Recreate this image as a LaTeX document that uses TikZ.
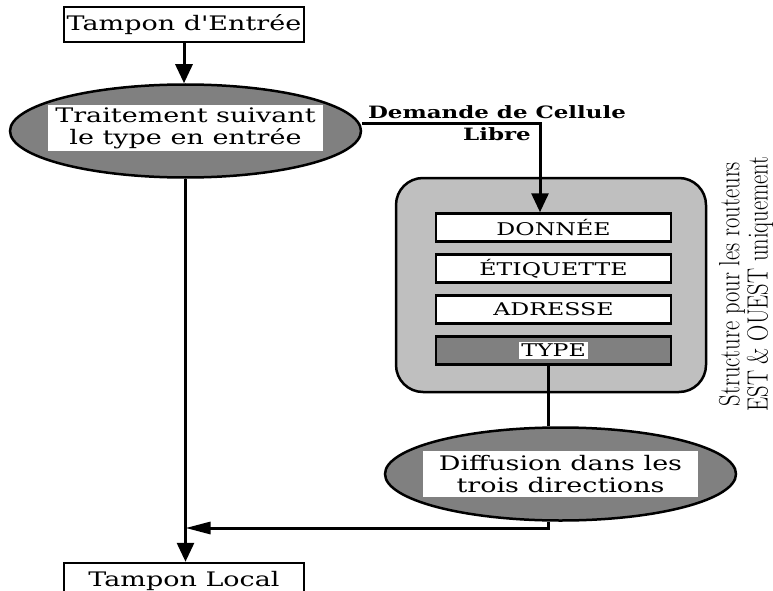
\documentclass[tikz,border=0pt]{standalone}
\usepackage{fontspec}
\usetikzlibrary{arrows.meta, positioning, shapes.geometric}
\newfontfamily\schfont{DejaVu Serif}[FakeStretch=1.35]

\begin{document}
\begin{tikzpicture}[x=1pt, y=-1pt,
        node distance=10.5pt and 0pt,
        buf/.style={rectangle, draw, line width=2.5pt, fill=white,
            minimum width=240pt, minimum height=35pt, inner sep=0pt,
            font=\schfont\fontsize{20}{23}\selectfont},
        proc/.style={ellipse, draw, line width=2.5pt, fill=black!50,
            minimum width=351pt, minimum height=93pt, inner sep=0pt},
        proctxt/.style={rectangle, fill=white, minimum width=275pt,
            minimum height=46pt, align=center, inner sep=0pt,
            font=\schfont\fontsize{20}{22}\selectfont},
        grp/.style={rectangle, draw, line width=2.5pt, rounded corners=27pt,
            fill=black!25, minimum width=310pt, minimum height=214pt},
        field/.style={rectangle, draw, line width=2.5pt, fill=white,
            minimum width=235pt, minimum height=28pt, inner sep=0pt,
            font=\schfont\fontsize{17.5}{19}\selectfont},
        arr/.style={-{Triangle[length=19pt, width=17pt]}, line width=3pt},
        arrh/.style={-{Triangle[length=25pt, width=12pt]}, line width=3pt},
        ln/.style={line width=3pt}
    ]
        \clip (0,0) rectangle (773,591);

        \node[buf] (in) at (184,24.5) {Tampon d'Entrée};
        \node[proc] (trait) at (185.5,131) {};
        \node[proctxt] (traittxt) at ([yshift=3pt]trait.center)
            {Traitement suivant\\le type en entrée};
        \node[anchor=north, align=center, inner sep=0pt,
            font=\schfont\bfseries\fontsize{17}{22}\selectfont] (demande)
            at (497,105) {Demande de Cellule\\Libre};

        % structure des cellules
        \node[grp] (struct) at (551,285) {};
        \node[field] (donnee) at (553.5,227.5) {DONNÉE};
        \node[field, below=of donnee] (etiq) {ÉTIQUETTE};
        \node[field, below=of etiq] (adr) {ADRESSE};
        \node[field, fill=black!50, below=of adr] (type) {};
        \node[fill=white, inner sep=2pt,
            font=\schfont\fontsize{17.5}{19}\selectfont] (typelbl) at (type) {TYPE};
        \node[rotate=90, inner sep=0pt] (note) at (747,284)
            {\fontsize{22.5}{19}\selectfont\scalebox{1}[1.3]{%
            \begin{tabular}{@{}c@{}}Structure pour les routeurs\\
            EST \& OUEST uniquement\end{tabular}}};

        \node[proc] (diff) at (560.5,474) {};
        \node[proctxt] (difftxt) at (diff)
            {Diffusion dans les\\trois directions};
        \node[buf] (local) at (184,580.5) {Tampon Local};
        \coordinate (join) at (185.5,528);

        \draw[arr] (in) -- (in |- trait.north);
        \draw[arr] ([yshift=7pt]trait.east) -| ([xshift=-13.5pt]donnee.north);
        \draw[arr] (trait.south) -- (trait.south |- local.north);
        \draw[ln] ([xshift=-5.5pt]type.south) coordinate (t) -- (t |- diff.north);
        \draw[arrh] (t |- diff.south) |- (join);
    \end{tikzpicture}
\end{document}
